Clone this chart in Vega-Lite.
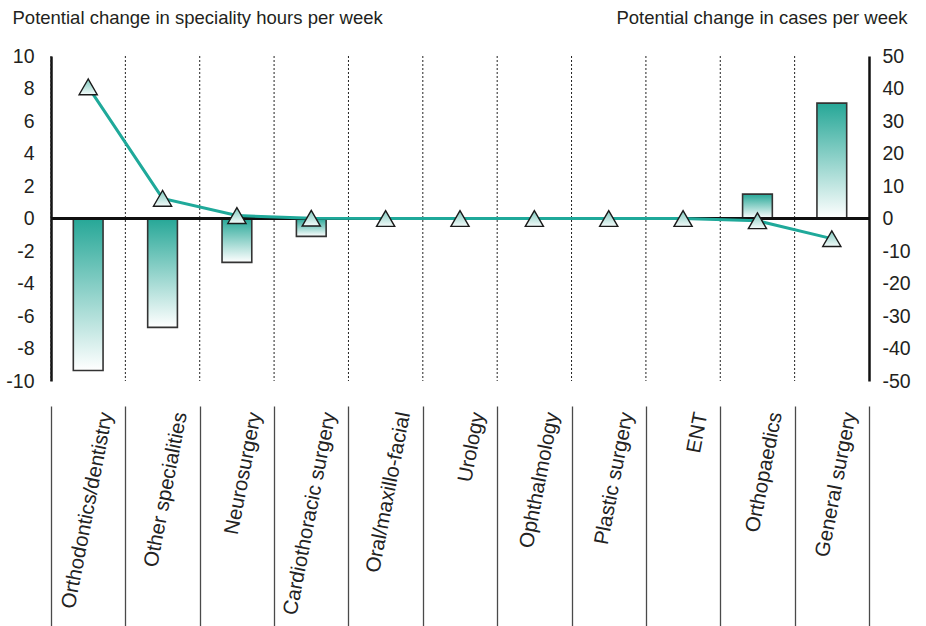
{
  "$schema": "https://vega.github.io/schema/vega-lite/v6.json",
  "width": 818,
  "height": 325,
  "autosize": {"type": "none"},
  "padding": {"left": 51, "top": 56, "right": 57, "bottom": 245},
  "background": "white",
  "data": {
    "values": [
      {"cat": "Orthodontics/dentistry", "hours": -9.35, "cases": 40.5},
      {"cat": "Other specialities", "hours": -6.7, "cases": 6.2},
      {"cat": "Neurosurgery", "hours": -2.7, "cases": 0.9},
      {"cat": "Cardiothoracic surgery", "hours": -1.1, "cases": 0.1},
      {"cat": "Oral/maxillo-facial", "hours": 0, "cases": 0},
      {"cat": "Urology", "hours": 0, "cases": 0},
      {"cat": "Ophthalmology", "hours": 0, "cases": 0},
      {"cat": "Plastic surgery", "hours": 0, "cases": 0},
      {"cat": "ENT", "hours": 0, "cases": 0},
      {"cat": "Orthopaedics", "hours": 1.5, "cases": -0.7},
      {"cat": "General surgery", "hours": 7.1, "cases": -6.2}
    ]
  },
  "layer": [
    {
      "layer": [
        {
          "mark": {"type": "rule", "strokeDash": [2, 2], "color": "#222222", "strokeWidth": 1},
          "encoding": {
            "x": {"field": "cat", "type": "nominal", "sort": null, "bandPosition": 0, "axis": {"title": null}}
          }
        },
        {
          "mark": {
            "type": "bar",
            "width": {"band": 0.4},
            "stroke": "#333333",
            "strokeWidth": 1.6,
            "fill": {
              "gradient": "linear", "x1": 0, "y1": 0, "x2": 0, "y2": 1,
              "stops": [{"offset": 0, "color": "#26a797"}, {"offset": 1, "color": "#ffffff"}]
            }
          },
          "encoding": {
            "x": {"field": "cat", "type": "nominal", "sort": null, "axis": {"title": null}},
            "y": {
              "field": "hours", "type": "quantitative",
              "scale": {"domain": [-10, 10], "nice": false},
              "axis": {
                "orient": "left",
                "values": [-10, -8, -6, -4, -2, 0, 2, 4, 6, 8, 10],
                "tickCount": 30,
                "labelExpr": "'' + datum.value",
                "labelOverlap": false,
                "labelPadding": 17,
                "title": "Potential change in speciality hours per week",
                "titleAngle": 0,
                "titleAlign": "left",
                "titleBaseline": "alphabetic",
                "titleX": -39,
                "titleY": -33
              }
            }
          }
        },
        {
          "mark": {"type": "rule", "color": "#111111", "strokeWidth": 2.2},
          "encoding": {"y": {"datum": 0, "type": "quantitative"}}
        }
      ]
    },
    {
      "layer": [
        {
          "mark": {"type": "line", "color": "#1fa99a", "strokeWidth": 3},
          "encoding": {
            "x": {"field": "cat", "type": "nominal", "sort": null, "axis": {"title": null}},
            "y": {
              "field": "cases", "type": "quantitative",
              "scale": {"domain": [-50, 50], "nice": false},
              "axis": {
                "orient": "right",
                "values": [-50, -40, -30, -20, -10, 0, 10, 20, 30, 40, 50],
                "tickCount": 30,
                "labelExpr": "'' + datum.value",
                "labelOverlap": false,
                "labelPadding": 13,
                "title": "Potential change in cases per week",
                "titleAngle": 0,
                "titleAlign": "right",
                "titleBaseline": "alphabetic",
                "titleX": 38,
                "titleY": -33
              }
            }
          }
        },
        {
          "mark": {
            "type": "point",
            "shape": "triangle-up",
            "size": 330,
            "filled": true,
            "opacity": 1,
            "stroke": "#1a1a1a",
            "strokeWidth": 1.4,
            "fill": {
              "gradient": "linear", "x1": 0, "y1": 0, "x2": 0, "y2": 1,
              "stops": [{"offset": 0, "color": "#7fc9be"}, {"offset": 1, "color": "#f4fbfa"}]
            }
          },
          "encoding": {
            "x": {"field": "cat", "type": "nominal", "sort": null, "axis": {"title": null}},
            "y": {"field": "cases", "type": "quantitative"}
          }
        }
      ]
    }
  ],
  "resolve": {"scale": {"y": "independent"}},
  "config": {
    "view": {"stroke": null},
    "font": "Liberation Sans",
    "scale": {"bandPaddingInner": 0, "bandPaddingOuter": 0},
    "axis": {
      "grid": false,
      "labelFont": "Liberation Sans",
      "titleFont": "Liberation Sans",
      "labelColor": "#231f20",
      "titleColor": "#231f20",
      "titleFontWeight": "normal",
      "titleFontSize": 18.5,
      "labelFontSize": 19.5,
      "labelOverlap": false
    },
    "axisY": {
      "domain": true,
      "domainColor": "#111111",
      "domainWidth": 2.5,
      "ticks": false,
      "labelBaseline": "middle",
      "labelFlush": false
    },
    "axisX": {
      "domain": false,
      "offset": 25,
      "ticks": true,
      "tickBand": "extent",
      "tickSize": 240,
      "tickColor": "#4a4a4a",
      "tickWidth": 1.3,
      "labelAngle": -79,
      "labelAlign": "right",
      "labelBaseline": "middle",
      "labelPadding": -234,
      "labelOffset": 18,
      "labelFontSize": 20.5,
      "labelFontStyle": "normal",
      "labelColor": "#222222",
      "labelLimit": 0,
      "labelOverlap": false
    }
  }
}
